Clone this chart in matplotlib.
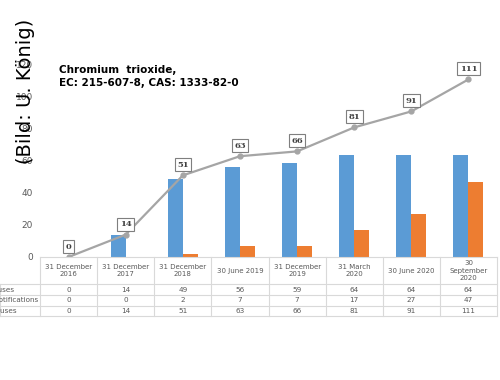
import numpy as np
import matplotlib
matplotlib.use("Agg")
import matplotlib.pyplot as plt

# data
dates = ["31 December\n2016", "31 December\n2017", "31 December\n2018", "30 June 2019",
         "31 December\n2019", "31 March\n2020", "30 June 2020", "30\nSeptember\n2020"]
authorised = [0, 14, 49, 56, 59, 64, 64, 64]
notifications = [0, 0, 2, 7, 7, 17, 27, 47]
total = [0, 14, 51, 63, 66, 81, 91, 111]
row_names = ["Authorised uses", "Downstream user notifications", "Total uses"]

blue = "#5B9BD5"
orange = "#ED7D31"
grey = "#A5A5A5"
txt = "#595959"
border = "#D9D9D9"

W, H = 500, 380
fig = plt.figure(figsize=(5, 3.8), dpi=100)

# main plot area: x 40..497 px, y 65..257 px (from top)
ax = fig.add_axes([40 / W, 1 - 257 / H, 457 / W, 192 / H])
x = np.arange(len(dates))
w = 0.263
ax.bar(x - w / 2, authorised, w, color=blue, zorder=2)
ax.bar(x + w / 2, notifications, w, color=orange, zorder=2)
ax.plot(x, total, color=grey, lw=1.6, marker="o", ms=3.5, zorder=3)
for xi, v in zip(x, total):
    ax.annotate(str(v), (xi, v), xytext=(0, 7.5), textcoords="offset points",
                ha="center", va="center", fontsize=6, fontweight="bold",
                family="DejaVu Serif", color="#404040", zorder=4,
                bbox=dict(boxstyle="square,pad=0.3", fc="white", ec="#7F7F7F", lw=0.8))

ax.set_xlim(-0.5, len(dates) - 0.5)
ax.set_ylim(0, 120)
ax.set_yticks(range(0, 121, 20))
ax.tick_params(axis="y", length=0, pad=5, labelsize=6.5, labelcolor=txt)
ax.set_xticks([])
for s in ax.spines.values():
    s.set_visible(False)

# data table under the chart, y in pixels (0 = top of table at 257 px)
tax = fig.add_axes([40 / W, 1 - 316 / H, 457 / W, 59 / H], sharex=ax)
tax.set_ylim(59, 0)
tax.axis("off")
left_edge = -0.5 - 40 / (457 / len(dates))
edges = np.arange(len(dates) + 1) - 0.5
for e in edges:
    tax.plot([e, e], [0, 59], color=border, lw=0.8, clip_on=False)
tax.plot([-0.5, edges[-1]], [0, 0], color=border, lw=0.8, clip_on=False)
row_y = [27, 38, 49, 59]
for yy in row_y:
    tax.plot([left_edge, edges[-1]], [yy, yy], color=border, lw=0.8, clip_on=False)
tax.plot([left_edge, left_edge], [27, 59], color=border, lw=0.8, clip_on=False)

for xi, d in zip(x, dates):
    tax.text(xi, 13.5, d, ha="center", va="center", fontsize=5, color=txt,
             linespacing=1.25)

rows = [authorised, notifications, total]
label_right = [14, 38, 17]
for i, vals in enumerate(rows):
    cy = (row_y[i] + row_y[i + 1]) / 2
    for xi, v in zip(x, vals):
        tax.text(xi, cy, str(v), ha="center", va="center", fontsize=5.2, color=txt)
    fig.text(label_right[i] / W, 1 - (257 + cy) / H, row_names[i], ha="right",
             va="center", fontsize=5.2, color=txt)

# title inside the plot area
fig.text(59 / W, 1 - 70 / H, "Chromium  trioxide,", fontsize=7.5, fontweight="bold",
         va="center", ha="left")
fig.text(59 / W, 1 - 83 / H, "EC: 215-607-8, CAS: 1333-82-0", fontsize=7.5,
         fontweight="bold", va="center", ha="left")

# photo credit watermark
fig.text(26 / W, 1 - 91 / H, "(Bild: U. König)", rotation=90, fontsize=14,
         ha="center", va="center", color="black")

fig.savefig("out.png", dpi=100)
